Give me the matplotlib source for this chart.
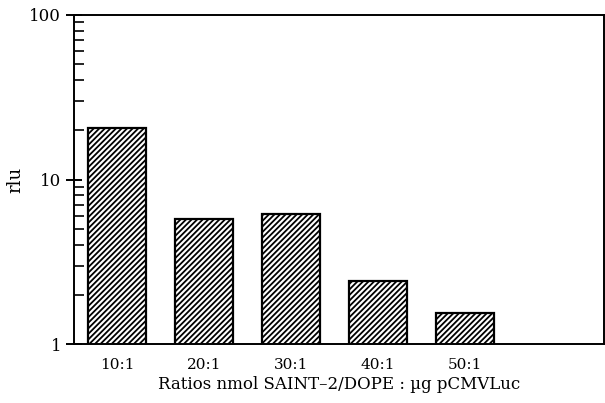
import numpy as np
import matplotlib.pyplot as plt
from matplotlib.ticker import LogLocator, NullFormatter, FixedLocator, FixedFormatter

# ---------- data ----------
ratios = ["10:1", "20:1", "30:1", "40:1", "50:1"]
rlu = [20.6, 5.75, 6.2, 2.42, 1.54]

plt.rcParams["font.family"] = ["DejaVu Serif"]
plt.rcParams["hatch.linewidth"] = 1.3

fig = plt.figure(figsize=(6.05, 4.03), dpi=100)
ax = fig.add_axes([0.122, 0.146, 0.876, 0.817])

x = np.arange(len(ratios))
ax.bar(x, rlu, width=0.67, color="white", edgecolor="black",
       linewidth=1.6, hatch="//////")

ax.set_yscale("log")
ax.set_ylim(1, 100)
ax.set_xlim(-0.5, 5.6)

ax.yaxis.set_major_locator(FixedLocator([1, 10, 100]))
ax.yaxis.set_major_formatter(FixedFormatter(["1", "10", "100"]))
ax.yaxis.set_minor_locator(LogLocator(base=10, subs=np.arange(2, 10)))
ax.yaxis.set_minor_formatter(NullFormatter())
ax.tick_params(axis="y", which="major", direction="inout", length=12, width=1.4,
               labelsize=12, pad=3)
ax.tick_params(axis="y", which="minor", direction="in", length=7, width=1.2)

ax.set_xticks(x)
ax.set_xticklabels(ratios)
ax.tick_params(axis="x", length=0, labelsize=11, pad=10)

for s in ax.spines.values():
    s.set_linewidth(1.4)

ax.set_ylabel("rlu", fontsize=13, labelpad=4)
ax.set_xlabel("Ratios nmol SAINT\u20132/DOPE : \u00b5g pCMVLuc", fontsize=12, labelpad=3)

fig.savefig("out.png", dpi=100)
